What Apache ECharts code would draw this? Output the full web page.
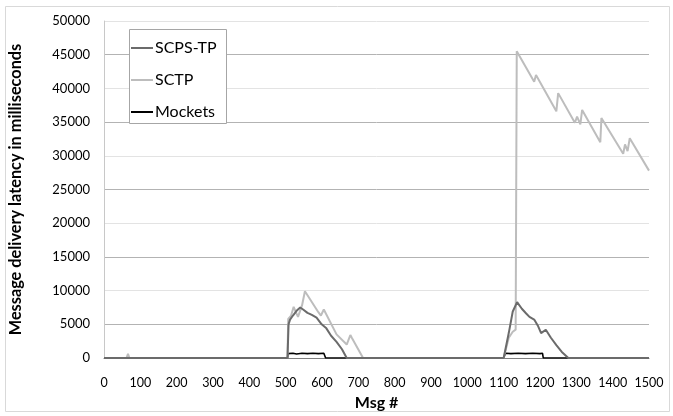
<!DOCTYPE html>
<html>
<head>
<meta charset="utf-8">
<script src="https://cdn.jsdelivr.net/npm/echarts@6/dist/echarts.min.js"></script>
<style>
  html, body { margin: 0; padding: 0; background: #fff; }
  #chart { width: 673px; height: 416px; }
</style>
</head>
<body>
<div id="chart"></div>
<script>
  // values: message number -> latency (ms)
  const seriesNames = ['SCPS-TP', 'SCTP', 'Mockets'];

  const scpsMsg = [0, 505, 508, 512, 520, 530, 540, 548, 560, 572, 585, 599, 612, 625, 640, 655, 668,
    1100, 1105, 1114, 1125, 1137, 1150, 1162, 1171, 1184, 1195, 1203, 1216, 1230, 1245, 1260, 1278, 1500];
  const scpsVal = [0, 0, 5000, 5700, 6300, 7000, 7500, 7200, 6700, 6400, 6000, 5000, 4400, 3300, 2400, 1300, 0,
    0, 0, 3700, 6900, 8300, 7300, 6600, 6100, 5700, 4700, 3700, 4200, 3000, 1900, 900, 0, 0];

  const sctpMsg = [0, 62, 66, 70, 505, 507, 510, 515, 522, 528, 534, 545, 553, 590, 597, 605, 640, 668, 678, 682, 713,
    1100, 1105, 1114, 1125, 1133, 1136, 1184, 1189, 1245, 1250, 1296, 1302, 1311, 1316, 1366, 1369,
    1429, 1434, 1441, 1447, 1500];
  const sctpVal = [0, 0, 600, 0, 0, 5800, 5600, 6300, 7600, 6800, 6100, 7800, 9900, 6800, 6300, 7200, 3500, 2000, 3400, 3000, 0,
    0, 0, 3000, 3900, 4200, 45500, 41000, 42000, 36600, 39300, 34900, 35800, 34650, 36800, 32000, 35600,
    30300, 31700, 30700, 32600, 27800];

  const mockMsg = [0, 505, 507, 520, 530, 545, 560, 575, 590, 605, 608, 610,
    1100, 1103, 1105, 1120, 1140, 1160, 1180, 1200, 1207, 1209, 1500];
  const mockVal = [0, 0, 650, 700, 600, 700, 650, 700, 650, 700, 650, 0,
    0, 0, 700, 650, 700, 650, 700, 650, 700, 0, 0];

  const xTicks = { min: 0, max: 1500, step: 100 };
  const yTicks = { min: 0, max: 50000, step: 5000 };

  const pairs = (xs, ys) => xs.map((x, i) => [x, ys[i]]);
  const font = 'Lato, "Open Sans", sans-serif';

  const chart = echarts.init(document.getElementById('chart'), null, { renderer: 'canvas' });
  chart.setOption({
    backgroundColor: '#fff',
    animation: false,
    grid: { left: 101, right: 24, top: 21, bottom: 55 },
    graphic: [
      { type: 'rect', z: 0, shape: { x: 5.5, y: 6.5, width: 664, height: 405 },
        style: { fill: 'none', stroke: '#d9d9d9', lineWidth: 1 } },
      { type: 'rect', z: 3, shape: { x: 129.5, y: 29.5, width: 97, height: 94 },
        style: { fill: '#fff', stroke: '#a6a6a6', lineWidth: 1 } },
    ],
    legend: {
      data: seriesNames,
      orient: 'vertical', left: 129, top: 29, z: 5,
      padding: [11, 4, 4, 2],
      itemGap: 16, itemWidth: 22, itemHeight: 2, icon: 'rect', itemStyle: { borderWidth: 0 },
      textStyle: { fontFamily: font, fontSize: 16, color: '#000', lineHeight: 16, padding: [0, 0, 0, -3] },
    },
    xAxis: {
      type: 'value', min: xTicks.min, max: xTicks.max, interval: xTicks.step,
      name: 'Msg #', nameLocation: 'middle', nameGap: 37,
      nameTextStyle: { fontFamily: font, fontSize: 16, fontWeight: 'bold', color: '#000' },
      axisLine: { lineStyle: { color: '#7f7f7f', width: 1 } },
      axisTick: { show: false },
      axisLabel: { fontFamily: font, fontSize: 12.5, color: '#000', margin: 18, formatter: (v) => String(v) },
      splitLine: { show: false },
    },
    yAxis: {
      type: 'value', min: yTicks.min, max: yTicks.max, interval: yTicks.step,
      name: 'Message delivery latency in milliseconds', nameLocation: 'middle', nameGap: 80,
      nameTextStyle: { fontFamily: font, fontSize: 16.3, fontWeight: 'bold', color: '#000' },
      axisLine: { show: true, lineStyle: { color: '#c8c8c8' } },
      axisTick: { show: false },
      axisLabel: { fontFamily: font, fontSize: 13, color: '#000', margin: 14, formatter: (v) => String(v) },
      splitLine: { lineStyle: { color: ['#e3e3e3', '#b3b3b3'], width: 1 } },
    },
    series: [
      { name: 'SCPS-TP', type: 'line', z: 5, data: pairs(scpsMsg, scpsVal), showSymbol: false,
        lineStyle: { color: '#6b6b6b', width: 2 }, itemStyle: { color: '#6b6b6b' } },
      { name: 'SCTP', type: 'line', z: 4, data: pairs(sctpMsg, sctpVal), showSymbol: false,
        lineStyle: { color: '#bdbdbd', width: 2 }, itemStyle: { color: '#bdbdbd' } },
      { name: 'Mockets', type: 'line', z: 3, data: pairs(mockMsg, mockVal), showSymbol: false,
        lineStyle: { color: '#000', width: 1.6 }, itemStyle: { color: '#000' } },
    ],
  });
</script>
</body>
</html>
